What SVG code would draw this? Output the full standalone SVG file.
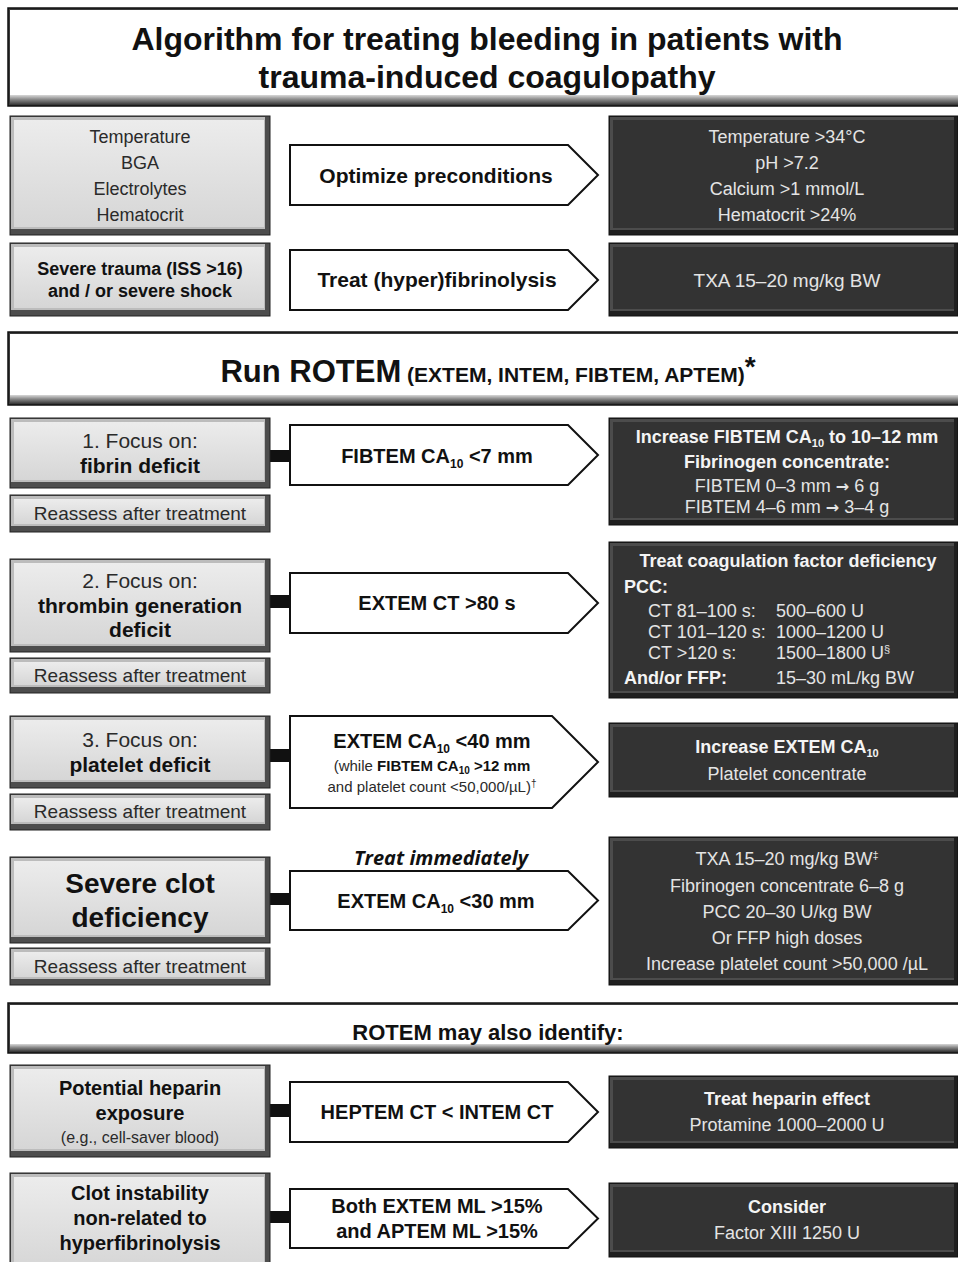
<svg xmlns="http://www.w3.org/2000/svg" width="958" height="1262" viewBox="0 0 958 1262">
<style>
text{font-family:"Liberation Sans",Arial,sans-serif;}
.b{font-weight:bold;}
.gt{fill:#2a2a2a;}
.gb{fill:#111;}
.wt{fill:#e4e4e4;}
.wb{fill:#f4f4f4;font-weight:bold;}
.c{text-anchor:middle;}
.ar{font-family:"DejaVu Sans",sans-serif;font-weight:bold;}
.g-out{fill:#4d4d4d;stroke:#222;stroke-width:1;}
.g-lt{fill:#bcbcbc;}
.g-face{fill:url(#gface);}
.d-out{fill:#1f1f1f;stroke:#111;stroke-width:1;}
.d-lt{fill:#4c4c4c;}
.d-face{fill:#333;}
.h-out{fill:#3a3a3a;stroke:#111;stroke-width:1.5;}
.h-face{fill:#fff;}
.h-bev{fill:url(#hbev);}
.arrow{fill:#fff;stroke:#111;stroke-width:2;stroke-linejoin:miter;}
.bar{fill:#111;}
</style>
<defs>
<linearGradient id="gface" x1="0" y1="0" x2="0" y2="1">
<stop offset="0" stop-color="#ececec"/>
<stop offset="1" stop-color="#d6d6d6"/>
</linearGradient>
<linearGradient id="hbev" x1="0" y1="0" x2="0" y2="1">
<stop offset="0" stop-color="#d8d8d8"/>
<stop offset="0.5" stop-color="#888"/>
<stop offset="1" stop-color="#444"/>
</linearGradient>
</defs>
<rect width="958" height="1262" fill="#fff"/>

<!-- Headers -->
<g id="title">
<rect class="h-out" x="8" y="8" width="960" height="98"/>
<rect class="h-face" x="10" y="10" width="956" height="85"/>
<rect class="h-bev" x="10" y="95" width="956" height="9"/>
<text class="b gb c" x="487" y="50" font-size="32">Algorithm for treating bleeding in patients with</text>
<text class="b gb c" x="487" y="88" font-size="32">trauma-induced coagulopathy</text>
</g>
<g id="run-rotem">
<rect class="h-out" x="8" y="332" width="960" height="73"/>
<rect class="h-face" x="10" y="334" width="956" height="61"/>
<rect class="h-bev" x="10" y="395" width="956" height="8"/>
<text class="b gb c" x="488" y="382"><tspan font-size="31">Run ROTEM</tspan><tspan font-size="21"> (EXTEM, INTEM, FIBTEM, APTEM)</tspan><tspan font-size="28" dy="-6">*</tspan></text>
</g>
<g id="rotem-may">
<rect class="h-out" x="8" y="1003" width="960" height="50"/>
<rect class="h-face" x="10" y="1005" width="956" height="39"/>
<rect class="h-bev" x="10" y="1044" width="956" height="7"/>
<text class="b gb c" x="488" y="1040" font-size="22">ROTEM may also identify:</text>
</g>

<!-- Connectors -->
<g id="connectors">
<rect class="bar" x="268" y="450" width="24" height="12"/>
<rect class="bar" x="268" y="595" width="24" height="13"/>
<rect class="bar" x="268" y="749" width="24" height="13"/>
<rect class="bar" x="268" y="893" width="24" height="12"/>
<rect class="bar" x="268" y="1104" width="24" height="13"/>
<rect class="bar" x="268" y="1211" width="24" height="12"/>
</g>

<!-- Row 1 -->
<g id="pre-left">
<rect class="g-out" x="10" y="116" width="260" height="119"/>
<rect class="g-lt" x="11" y="117" width="254" height="112"/>
<rect class="g-face" x="14" y="120" width="250" height="107"/>
<text class="gt c" x="140" y="143" font-size="18">Temperature</text>
<text class="gt c" x="140" y="169" font-size="18">BGA</text>
<text class="gt c" x="140" y="195" font-size="18">Electrolytes</text>
<text class="gt c" x="140" y="221" font-size="18">Hematocrit</text>
</g>
<g id="pre-arrow">
<path class="arrow" d="M290,145 H568 L598,175 L568,205 H290 Z"/>
<text class="b gb c" x="436" y="183" font-size="21">Optimize preconditions</text>
</g>
<g id="pre-right">
<rect class="d-out" x="609" y="116" width="349" height="119"/>
<rect class="d-lt" x="610" y="117" width="344" height="113"/>
<rect class="d-face" x="613" y="120" width="341" height="108"/>
<text class="wt c" x="787" y="143" font-size="18">Temperature &gt;34°C</text>
<text class="wt c" x="787" y="169" font-size="18">pH &gt;7.2</text>
<text class="wt c" x="787" y="195" font-size="18">Calcium &gt;1 mmol/L</text>
<text class="wt c" x="787" y="221" font-size="18">Hematocrit &gt;24%</text>
</g>

<!-- Row 2 -->
<g id="trauma-left">
<rect class="g-out" x="10" y="243" width="260" height="73"/>
<rect class="g-lt" x="11" y="244" width="254" height="66"/>
<rect class="g-face" x="14" y="247" width="250" height="61"/>
<text class="b gb c" x="140" y="275" font-size="18">Severe trauma (ISS &gt;16)</text>
<text class="b gb c" x="140" y="297" font-size="18">and / or severe shock</text>
</g>
<g id="fib-arrow">
<path class="arrow" d="M290,250 H568 L598,280 L568,310 H290 Z"/>
<text class="b gb c" x="437" y="287" font-size="21">Treat (hyper)fibrinolysis</text>
</g>
<g id="txa-right">
<rect class="d-out" x="609" y="243" width="349" height="73"/>
<rect class="d-lt" x="610" y="244" width="344" height="67"/>
<rect class="d-face" x="613" y="247" width="341" height="62"/>
<text class="wt c" x="787" y="287" font-size="19">TXA 15–20 mg/kg BW</text>
</g>

<!-- Row 3: fibrin -->
<g id="fibrin-left">
<rect class="g-out" x="10" y="418" width="260" height="70"/>
<rect class="g-lt" x="11" y="419" width="254" height="63"/>
<rect class="g-face" x="14" y="422" width="250" height="58"/>
<text class="gt c" x="140" y="448" font-size="21">1. Focus on:</text>
<text class="b gb c" x="140" y="473" font-size="21">fibrin deficit</text>
</g>
<g id="reassess-1">
<rect class="g-out" x="10" y="495" width="260" height="37"/>
<rect class="g-lt" x="11" y="496" width="254" height="30"/>
<rect class="g-face" x="14" y="499" width="250" height="25"/>
<text class="gt c" x="140" y="520" font-size="19">Reassess after treatment</text>
</g>
<g id="fibtem-arrow">
<path class="arrow" d="M290,425 H568 L598,455 L568,485 H290 Z"/>
<text class="b gb c" x="437" y="463" font-size="20">FIBTEM CA<tspan font-size="12" dy="5">10</tspan><tspan dy="-5"> &lt;7 mm</tspan></text>
</g>
<g id="fibtem-right">
<rect class="d-out" x="609" y="418" width="349" height="107"/>
<rect class="d-lt" x="610" y="419" width="344" height="101"/>
<rect class="d-face" x="613" y="422" width="341" height="96"/>
<text class="wb c" x="787" y="443" font-size="18">Increase FIBTEM CA<tspan font-size="11" dy="4">10</tspan><tspan dy="-4"> to 10–12 mm</tspan></text>
<text class="wb c" x="787" y="468" font-size="18">Fibrinogen concentrate:</text>
<text class="wt c" x="787" y="492" font-size="18">FIBTEM 0–3 mm <tspan class="ar" font-size="16">→</tspan> 6 g</text>
<text class="wt c" x="787" y="513" font-size="18">FIBTEM 4–6 mm <tspan class="ar" font-size="16">→</tspan> 3–4 g</text>
</g>

<!-- Row 4: thrombin -->
<g id="thrombin-left">
<rect class="g-out" x="10" y="559" width="260" height="93"/>
<rect class="g-lt" x="11" y="560" width="254" height="86"/>
<rect class="g-face" x="14" y="563" width="250" height="81"/>
<text class="gt c" x="140" y="588" font-size="21">2. Focus on:</text>
<text class="b gb c" x="140" y="613" font-size="21">thrombin generation</text>
<text class="b gb c" x="140" y="637" font-size="21">deficit</text>
</g>
<g id="reassess-2">
<rect class="g-out" x="10" y="658" width="260" height="35"/>
<rect class="g-lt" x="11" y="659" width="254" height="28"/>
<rect class="g-face" x="14" y="662" width="250" height="23"/>
<text class="gt c" x="140" y="682" font-size="19">Reassess after treatment</text>
</g>
<g id="extemct-arrow">
<path class="arrow" d="M290,573 H568 L598,603 L568,633 H290 Z"/>
<text class="b gb c" x="437" y="610" font-size="20">EXTEM CT &gt;80 s</text>
</g>
<g id="pcc-right">
<rect class="d-out" x="609" y="542" width="349" height="156"/>
<rect class="d-lt" x="610" y="543" width="344" height="150"/>
<rect class="d-face" x="613" y="546" width="341" height="145"/>
<text class="wb c" x="788" y="567" font-size="18">Treat coagulation factor deficiency</text>
<text class="wb" x="624" y="593" font-size="18">PCC:</text>
<text class="wt" x="648" y="617" font-size="18">CT 81–100 s:</text>
<text class="wt" x="776" y="617" font-size="18">500–600 U</text>
<text class="wt" x="648" y="638" font-size="18">CT 101–120 s:</text>
<text class="wt" x="776" y="638" font-size="18">1000–1200 U</text>
<text class="wt" x="648" y="659" font-size="18">CT &gt;120 s:</text>
<text class="wt" x="776" y="659" font-size="18">1500–1800 U<tspan font-size="11" dy="-6">§</tspan></text>
<text class="wb" x="624" y="684" font-size="18">And/or FFP:</text>
<text class="wt" x="776" y="684" font-size="18">15–30 mL/kg BW</text>
</g>

<!-- Row 5: platelet -->
<g id="platelet-left">
<rect class="g-out" x="10" y="716" width="260" height="72"/>
<rect class="g-lt" x="11" y="717" width="254" height="65"/>
<rect class="g-face" x="14" y="720" width="250" height="60"/>
<text class="gt c" x="140" y="747" font-size="21">3. Focus on:</text>
<text class="b gb c" x="140" y="772" font-size="21">platelet deficit</text>
</g>
<g id="reassess-3">
<rect class="g-out" x="10" y="794" width="260" height="36"/>
<rect class="g-lt" x="11" y="795" width="254" height="29"/>
<rect class="g-face" x="14" y="798" width="250" height="24"/>
<text class="gt c" x="140" y="818" font-size="19">Reassess after treatment</text>
</g>
<g id="extemca40-arrow">
<path class="arrow" d="M290,716 H552 L598,762 L552,808 H290 Z"/>
<text class="b gb c" x="432" y="748" font-size="20">EXTEM CA<tspan font-size="12" dy="5">10</tspan><tspan dy="-5"> &lt;40 mm</tspan></text>
<text class="gt c" x="432" y="771" font-size="15">(while <tspan class="b" fill="#111">FIBTEM CA<tspan font-size="10" dy="3">10</tspan><tspan dy="-3"> &gt;12 mm</tspan></tspan></text>
<text class="gt c" x="432" y="792" font-size="15">and platelet count &lt;50,000/µL)<tspan font-size="10" dy="-5">†</tspan></text>
</g>
<g id="platelet-right">
<rect class="d-out" x="609" y="723" width="349" height="74"/>
<rect class="d-lt" x="610" y="724" width="344" height="68"/>
<rect class="d-face" x="613" y="727" width="341" height="63"/>
<text class="wb c" x="787" y="753" font-size="18">Increase EXTEM CA<tspan font-size="11" dy="4">10</tspan></text>
<text class="wt c" x="787" y="780" font-size="18">Platelet concentrate</text>
</g>

<!-- Row 6: severe clot -->
<g id="severe-left">
<rect class="g-out" x="10" y="857" width="260" height="86"/>
<rect class="g-lt" x="11" y="858" width="254" height="79"/>
<rect class="g-face" x="14" y="861" width="250" height="74"/>
<text class="b gb c" x="140" y="893" font-size="28">Severe clot</text>
<text class="b gb c" x="140" y="927" font-size="28">deficiency</text>
</g>
<g id="reassess-4">
<rect class="g-out" x="10" y="948" width="260" height="37"/>
<rect class="g-lt" x="11" y="949" width="254" height="30"/>
<rect class="g-face" x="14" y="952" width="250" height="25"/>
<text class="gt c" x="140" y="973" font-size="19">Reassess after treatment</text>
</g>
<g id="extemca30-arrow">
<text class="gb c" x="441" y="865" font-size="20" font-weight="bold" font-style="italic" style="font-family:'Open Sans','Liberation Sans',sans-serif">Treat immediately</text>
<path class="arrow" d="M290,871 H568 L598,900.5 L568,930 H290 Z"/>
<text class="b gb c" x="436" y="908" font-size="20">EXTEM CA<tspan font-size="12" dy="5">10</tspan><tspan dy="-5"> &lt;30 mm</tspan></text>
</g>
<g id="severe-right">
<rect class="d-out" x="609" y="837" width="349" height="148"/>
<rect class="d-lt" x="610" y="838" width="344" height="142"/>
<rect class="d-face" x="613" y="841" width="341" height="137"/>
<text class="wt c" x="787" y="865" font-size="18">TXA 15–20 mg/kg BW<tspan font-size="11" dy="-6">‡</tspan></text>
<text class="wt c" x="787" y="892" font-size="18">Fibrinogen concentrate 6–8 g</text>
<text class="wt c" x="787" y="918" font-size="18">PCC 20–30 U/kg BW</text>
<text class="wt c" x="787" y="944" font-size="18">Or FFP high doses</text>
<text class="wt c" x="787" y="970" font-size="18">Increase platelet count &gt;50,000 /µL</text>
</g>

<!-- Row 7: heparin -->
<g id="heparin-left">
<rect class="g-out" x="10" y="1065" width="260" height="92"/>
<rect class="g-lt" x="11" y="1066" width="254" height="85"/>
<rect class="g-face" x="14" y="1069" width="250" height="80"/>
<text class="b gb c" x="140" y="1095" font-size="20">Potential heparin</text>
<text class="b gb c" x="140" y="1120" font-size="20">exposure</text>
<text class="gt c" x="140" y="1143" font-size="16">(e.g., cell-saver blood)</text>
</g>
<g id="heptem-arrow">
<path class="arrow" d="M290,1082 H568 L598,1112 L568,1142 H290 Z"/>
<text class="b gb c" x="437" y="1119" font-size="20">HEPTEM CT &lt; INTEM CT</text>
</g>
<g id="heparin-right">
<rect class="d-out" x="609" y="1076" width="349" height="72"/>
<rect class="d-lt" x="610" y="1077" width="344" height="66"/>
<rect class="d-face" x="613" y="1080" width="341" height="61"/>
<text class="wb c" x="787" y="1105" font-size="18">Treat heparin effect</text>
<text class="wt c" x="787" y="1131" font-size="18">Protamine 1000–2000 U</text>
</g>

<!-- Row 8: clot instability -->
<g id="instability-left">
<rect class="g-out" x="10" y="1173" width="260" height="100"/>
<rect class="g-lt" x="11" y="1174" width="254" height="95"/>
<rect class="g-face" x="14" y="1177" width="250" height="92"/>
<text class="b gb c" x="140" y="1200" font-size="20">Clot instability</text>
<text class="b gb c" x="140" y="1225" font-size="20">non-related to</text>
<text class="b gb c" x="140" y="1250" font-size="20">hyperfibrinolysis</text>
</g>
<g id="ml-arrow">
<path class="arrow" d="M290,1189 H568 L598,1218.5 L568,1248 H290 Z"/>
<text class="b gb c" x="437" y="1213" font-size="20">Both EXTEM ML &gt;15%</text>
<text class="b gb c" x="437" y="1238" font-size="20">and APTEM ML &gt;15%</text>
</g>
<g id="instability-right">
<rect class="d-out" x="609" y="1183" width="349" height="74"/>
<rect class="d-lt" x="610" y="1184" width="344" height="68"/>
<rect class="d-face" x="613" y="1187" width="341" height="63"/>
<text class="wb c" x="787" y="1213" font-size="18">Consider</text>
<text class="wt c" x="787" y="1239" font-size="18">Factor XIII 1250 U</text>
</g>
</svg>
